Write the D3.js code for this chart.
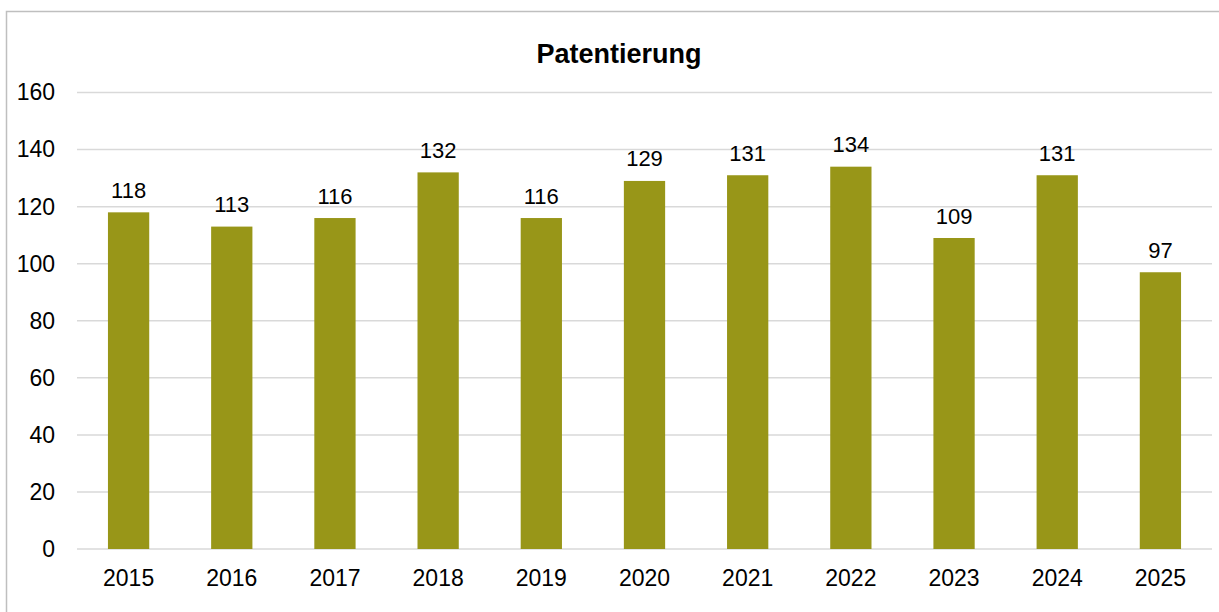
<!DOCTYPE html>
<html><head><meta charset="utf-8">
<script src="https://cdn.jsdelivr.net/npm/d3@7"></script>
<style>body{margin:0;background:#fff}svg{display:block}</style>
</head><body>
<svg id="c" width="1219" height="612"></svg>
<script>
const categories = ["2015","2016","2017","2018","2019","2020","2021","2022","2023","2024","2025"];
const values = [118,113,116,132,116,129,131,134,109,131,97];
const yTicks = [0,20,40,60,80,100,120,140,160];
const title = "Patentierung";

const svg = d3.select("#c");
const font = "'Liberation Sans', Arial, sans-serif";
const m = {left:77, right:1212, top:92.5, bottom:549};

svg.append("rect").attr("x",6.5).attr("y",11.5).attr("width",1230).attr("height",620)
  .attr("fill","#fff").attr("stroke","#bfbfbf").attr("stroke-width",1.5);

const x = d3.scaleBand().domain(categories).range([m.left,m.right]).paddingInner(0.6).paddingOuter(0.3);
const y = d3.scaleLinear().domain([0,160]).range([m.bottom,m.top]);

svg.append("g").selectAll("line").data(yTicks).join("line")
  .attr("x1",m.left).attr("x2",m.right).attr("y1",d=>y(d)).attr("y2",d=>y(d))
  .attr("stroke","#d9d9d9").attr("stroke-width",1.5);

const yAxis = svg.append("g").attr("transform",`translate(${m.left},0)`)
  .call(d3.axisLeft(y).tickValues(yTicks).tickSize(0).tickPadding(22));
yAxis.select(".domain").remove();
yAxis.selectAll("text").attr("font-family",font).attr("font-size",23).attr("fill","#000");

svg.append("g").selectAll("rect").data(values).join("rect")
  .attr("x",(d,i)=>x(categories[i])).attr("width",x.bandwidth())
  .attr("y",d=>y(d)).attr("height",d=>y(0)-y(d)).attr("fill","#989618");

svg.append("g").selectAll("text").data(values).join("text")
  .attr("x",(d,i)=>x(categories[i])+x.bandwidth()/2).attr("y",d=>y(d)-14.5)
  .attr("text-anchor","middle").attr("font-family",font).attr("font-size",22).attr("fill","#000")
  .text(d=>d);

const xAxis = svg.append("g").attr("transform",`translate(0,${m.bottom})`)
  .call(d3.axisBottom(x).tickSize(0).tickPadding(21));
xAxis.select(".domain").remove();
xAxis.selectAll("text").attr("font-family",font).attr("font-size",23).attr("fill","#000");

svg.append("text").attr("x",619).attr("y",63).attr("text-anchor","middle")
  .attr("font-family",font).attr("font-size",27).attr("font-weight","bold").attr("fill","#000")
  .text(title);
</script>
</body></html>
